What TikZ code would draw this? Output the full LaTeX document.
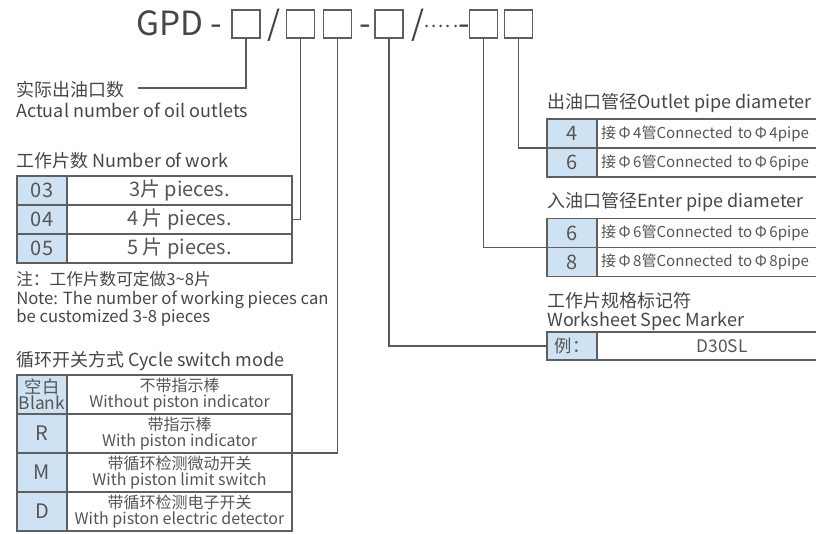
\documentclass[tikz,border=0pt]{standalone}
\usepackage{fontspec}
\setmainfont{Noto Sans CJK SC}
\usepackage{xcolor}

\definecolor{keyblue}{RGB}{207,226,243}
\definecolor{cellgray}{RGB}{95,95,95}
\definecolor{wiregray}{RGB}{90,90,90}
\definecolor{txtgray}{RGB}{70,70,70}
\definecolor{celltxt}{RGB}{85,85,85}

\begin{document}
\begin{tikzpicture}[x=0.75pt, y=-0.75pt,
    codebox/.style={draw=cellgray, line width=0.9pt, minimum size=21pt, inner sep=0pt},
    titletext/.style={text=txtgray, font=\fontsize{25pt}{25pt}\selectfont, inner sep=0pt},
    caption/.style={text=txtgray, font=\fontsize{13.5pt}{13.5pt}\selectfont, inner sep=0pt, anchor=base west},
    keycell/.style={draw=cellgray, fill=keyblue, line width=0.8pt, minimum width=37.5pt,
                    minimum height=#1, inner sep=0pt, outer sep=0pt, text=celltxt,
                    font=\fontsize{15pt}{15pt}\selectfont},
    keycell/.default=21.75pt,
    workcell/.style={draw=cellgray, line width=0.8pt, minimum width=168.75pt,
                     minimum height=#1, inner sep=0pt, outer sep=0pt, text=celltxt, align=center},
    workcell/.default=21.75pt,
    pipecell/.style={draw=cellgray, line width=0.8pt, minimum width=187.5pt, minimum height=21.75pt,
                     inner xsep=3pt, inner ysep=0pt, outer sep=0pt, text width=181.5pt, align=left,
                     text=celltxt, font=\fontsize{11.3pt}{11.3pt}\selectfont},
    wire/.style={draw=wiregray, line width=0.8pt}]
  \useasboundingbox (0,0) rectangle (816,533);

  % Model code line at top
  \node[titletext, anchor=base west] (gpd) at (136,35) {GPD -};
  \node[codebox] (code1) at (246,24) {};
  \node[titletext, anchor=base] (slash1) at (274,35) {/};
  \node[codebox] (code2) at (300.5,24) {};
  \node[codebox] (code3) at (337.5,24) {};
  \node[titletext, anchor=base] (dash1) at (365,35) {-};
  \node[codebox] (code4) at (389,24) {};
  \node[titletext, anchor=base west] (more) at (411,35)
       {/{\fontsize{14pt}{14pt}\selectfont\raisebox{6pt}{.\kern1.5pt.\kern1.5pt.\kern1.5pt.\kern1.5pt.}}-};
  \node[codebox] (code5) at (483.5,24) {};
  \node[codebox] (code6) at (518.5,24) {};

  % Actual number of oil outlets
  \node[caption] (outcn) at (16,96) {实际出油口数};
  \node[caption] (outen) at (16,117) {Actual number of oil outlets};
  \coordinate (outend) at (138,88);

  % Number of work table
  \node[caption] (worktitle) at (16,167) {工作片数 Number of work};
  \node[keycell] (w03k) at (42,190.5) {03};
  \node[workcell, font=\fontsize{15pt}{15pt}\selectfont] (w03v) at (179.5,190.5) {3片 pieces.};
  \node[keycell] (w04k) at (42,219.5) {04};
  \node[workcell, font=\fontsize{15pt}{15pt}\selectfont] (w04v) at (179.5,219.5) {4 片 pieces.};
  \node[keycell] (w05k) at (42,248.5) {05};
  \node[workcell, font=\fontsize{15pt}{15pt}\selectfont] (w05v) at (179.5,248.5) {5 片 pieces.};
  \node[caption, font=\fontsize{12.5pt}{12.5pt}\selectfont] (note1) at (16,285) {注：工作片数可定做3\textasciitilde8片};
  \node[caption, font=\fontsize{12.5pt}{12.5pt}\selectfont] (note2) at (16,304) {Note: The number of working pieces can};
  \node[caption, font=\fontsize{12.5pt}{12.5pt}\selectfont] (note3) at (16,322) {be customized 3-8 pieces};

  % Cycle switch mode table
  \node[caption] (cycletitle) at (16,366) {循环开关方式 Cycle switch mode};
  \node[keycell=29.25pt, align=center, font=\fontsize{13pt}{10.5pt}\selectfont] (cBk) at (42,394.5) {空白\\Blank};
  \node[workcell=29.25pt, font=\fontsize{12pt}{12pt}\selectfont] (cBv) at (179.5,394.5) {不带指示棒\\Without piston indicator};
  \node[keycell=29.25pt] (cRk) at (42,433.5) {R};
  \node[workcell=29.25pt, font=\fontsize{12pt}{12pt}\selectfont] (cRv) at (179.5,433.5) {带指示棒\\With piston indicator};
  \node[keycell=29.25pt] (cMk) at (42,472.5) {M};
  \node[workcell=29.25pt, font=\fontsize{12pt}{12pt}\selectfont] (cMv) at (179.5,472.5) {带循环检测微动开关\\With piston limit switch};
  \node[keycell=29.25pt] (cDk) at (42,511.5) {D};
  \node[workcell=29.25pt, font=\fontsize{12pt}{12pt}\selectfont] (cDv) at (179.5,511.5) {带循环检测电子开关\\With piston electric detector};

  % Outlet pipe diameter table
  \node[caption] (outlettitle) at (547,108) {出油口管径Outlet pipe diameter};
  \node[keycell] (o4k) at (572,133.5) {4};
  \node[pipecell] (o4v) at (722,133.5) {接\,Φ\,4管Connected to\,Φ\,4pipe};
  \node[keycell] (o6k) at (572,162.5) {6};
  \node[pipecell] (o6v) at (722,162.5) {接\,Φ\,6管Connected to\,Φ\,6pipe};

  % Enter pipe diameter table
  \node[caption] (entertitle) at (547,207) {入油口管径Enter pipe diameter};
  \node[keycell] (i6k) at (572,233) {6};
  \node[pipecell] (i6v) at (722,233) {接\,Φ\,6管Connected to\,Φ\,6pipe};
  \node[keycell] (i8k) at (572,262) {8};
  \node[pipecell] (i8v) at (722,262) {接\,Φ\,8管Connected to\,Φ\,8pipe};

  % Worksheet spec marker
  \node[caption] (speccn) at (547,307) {工作片规格标记符};
  \node[caption] (specen) at (547,326) {Worksheet Spec Marker};
  \node[keycell=21pt, font=\fontsize{13pt}{13pt}\selectfont] (exk) at (572,346) {例：};
  \node[pipecell, minimum height=21pt, align=center, font=\fontsize{13pt}{13pt}\selectfont] (exv) at (722,346) {D30SL};

  % Leader lines from code boxes
  \draw[wire] (code1.south) |- (outend);
  \draw[wire] (code2.south) |- (w04v.east);
  \draw[wire] (code3.south) |- (cRv.south east);
  \draw[wire] (code4.south) |- (exk.west);
  \draw[wire] (code5.south) |- (i6k.south west);
  \draw[wire] (code6.south) |- (o4k.south west);
\end{tikzpicture}
\end{document}
